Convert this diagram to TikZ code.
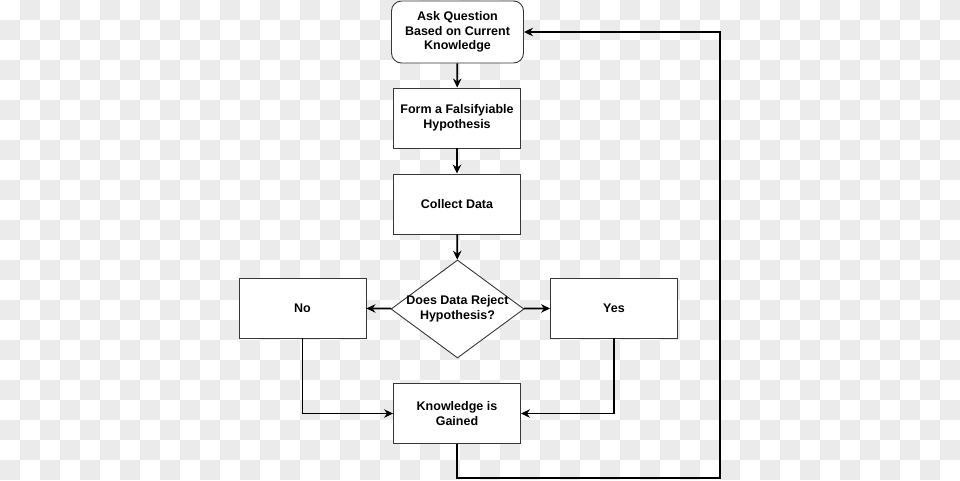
\documentclass[tikz,border=0pt]{standalone}
\usepackage{fontspec}
\setmainfont{Liberation Sans}
\usetikzlibrary{shapes.geometric,arrows.meta}
\definecolor{checker}{RGB}{235,235,235}
\definecolor{boxline}{RGB}{55,55,55}
\tikzset{
  stepbox/.style={rectangle,draw=boxline,fill=white,line width=0.9pt,align=center,
    minimum width=127pt,minimum height=60pt,inner sep=0pt,
    font=\fontsize{12.5}{14.7}\selectfont\bfseries},
  flow/.style={-{Stealth[length=9pt,width=8.5pt]},line width=1.8pt,black},
}

\begin{document}
\begin{tikzpicture}[x=1pt,y=-1pt]
  \useasboundingbox (0,0) rectangle (960,480);
  % background checker
  \foreach \j in {0,...,23}
    \foreach \i in {0,2,...,46}
      \fill[checker] ({(\i+1-mod(\j,2))*20},{\j*20}) rectangle ++(20,20);

  \node[stepbox,rounded corners=10pt,minimum width=132pt,minimum height=62pt] (ask) at (457.5,32) {Ask Question\\Based on Current\\Knowledge};
  \node[stepbox] (form) at (457,118) {Form a Falsifyiable\\Hypothesis};
  \node[stepbox] (collect) at (457,204) {Collect Data};
  \node[stepbox,shape=diamond,aspect=1.36,inner sep=-3pt,minimum width=133pt,minimum height=98pt] (reject) at (457.5,309) {Does Data Reject\\Hypothesis?}; % decision
  \node[stepbox] (no) at (302.5,308) {No};
  \node[stepbox] (yes) at (614,308) {Yes};
  \node[stepbox] (know) at (457,413.5) {Knowledge is\\Gained};
  \coordinate (loop) at (720,478); % return corner

  \draw[flow] (ask) -- (form);
  \draw[flow] (form) -- (collect);
  \draw[flow] (collect) -- (reject);
  \draw[flow] (reject) -- (no);
  \draw[flow] (reject) -- (yes);
  \draw[flow] (no.south) |- (know.west);
  \draw[flow] (yes.south) |- (know.east);

  % back to the start
  \draw[flow] (know.south) |- (loop) |- (ask.east);
\end{tikzpicture}
\end{document}
